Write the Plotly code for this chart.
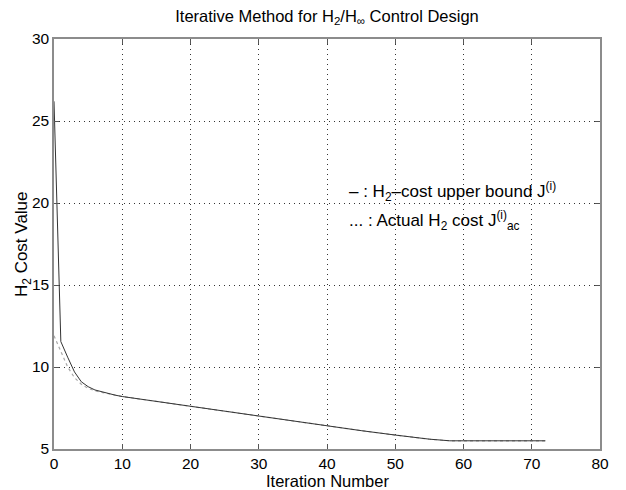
import plotly.graph_objects as go

# Iteration numbers and values (vertices of the polylines)
iter_upper = [0, 1, 2, 3, 4, 5, 6, 7, 8, 9, 10, 15, 20, 25, 30, 35, 40, 45, 50, 55, 58, 60, 65, 72]
upper_bound = [26.2, 11.55, 10.6, 9.7, 9.1, 8.8, 8.6, 8.48, 8.38, 8.28, 8.2, 7.9, 7.6, 7.3, 7.0, 6.7,
               6.4, 6.12, 5.85, 5.6, 5.5, 5.5, 5.5, 5.5]
iter_actual = [0, 1, 2, 3, 4, 5, 6, 7, 8, 9, 10, 15, 20, 25, 30, 35, 40, 45, 50, 55, 58, 60, 65, 72]
actual_cost = [11.9, 10.9, 10.0, 9.35, 8.95, 8.7, 8.55, 8.45, 8.37, 8.28, 8.2, 7.9, 7.6, 7.3, 7.0, 6.7,
               6.4, 6.12, 5.85, 5.6, 5.5, 5.5, 5.5, 5.5]

x_ticks = [0, 10, 20, 30, 40, 50, 60, 70, 80]
y_ticks = [5, 10, 15, 20, 25, 30]

FONT = "Liberation Sans, Arial, Helvetica, sans-serif"

# The page body has an 8px default margin, so the figure is sized to fit the window.
W, H = 618, 482

fig = go.Figure()
fig.add_trace(go.Scatter(x=iter_actual, y=actual_cost, mode="lines",
                         line=dict(color="#a8a8a8", width=1.2, dash="dot"),
                         showlegend=False))
fig.add_trace(go.Scatter(x=iter_upper, y=upper_bound, mode="lines",
                         line=dict(color="#333333", width=1),
                         showlegend=False))

axis_common = dict(showgrid=True, gridcolor="#333333", griddash="1px,4px", gridwidth=1,
                   showline=True, linecolor="#8c8c8c", linewidth=1.5, mirror="ticks",
                   ticks="inside", ticklen=5, tickcolor="#555555", zeroline=False,
                   tickfont=dict(family=FONT, size=15.5, color="black"))

fig.update_layout(
    width=W, height=H,
    margin=dict(l=46, r=26, t=31, b=41),
    paper_bgcolor="white", plot_bgcolor="white",
    title=dict(text="Iterative Method for H<sub>2</sub>/H<sub>∞</sub> Control Design",
               x=(46 + (W - 26 - 46) / 2) / W, xanchor="center",
               yref="container", y=1 - 8 / H, yanchor="middle",
               font=dict(family=FONT, size=16.5, color="black")),
    xaxis=dict(range=[0, 80], tickvals=x_ticks, ticktext=[str(v) for v in x_ticks],
               **axis_common),
    yaxis=dict(range=[5, 30], tickvals=y_ticks, ticktext=[str(v) for v in y_ticks],
               **axis_common),
)

fig.add_annotation(x=0.5, y=0, xref="x domain", yref="y domain", xanchor="center",
                   yanchor="middle", yshift=-32, showarrow=False, text="Iteration Number",
                   font=dict(family=FONT, size=16.5, color="black"))
fig.add_annotation(x=0, y=0.5, xref="x domain", yref="y domain", xanchor="right",
                   yanchor="middle", xshift=-18, showarrow=False, textangle=-90,
                   text="H<sub>2</sub> Cost Value",
                   font=dict(family=FONT, size=17, color="black"))

fig.add_annotation(x=43.0, y=20.7, xref="x", yref="y", xanchor="left", yanchor="middle",
                   showarrow=False,
                   text="– : H<sub>2</sub>–cost upper bound J<sup>(i)</sup>",
                   font=dict(family=FONT, size=17, color="black"))
fig.add_annotation(x=43.0, y=18.95, xref="x", yref="y", xanchor="left", yanchor="middle",
                   showarrow=False,
                   text="... : Actual H<sub>2</sub> cost J<sup>(i)</sup><sub>ac</sub>",
                   font=dict(family=FONT, size=17, color="black"))

fig.write_html("out.html")
